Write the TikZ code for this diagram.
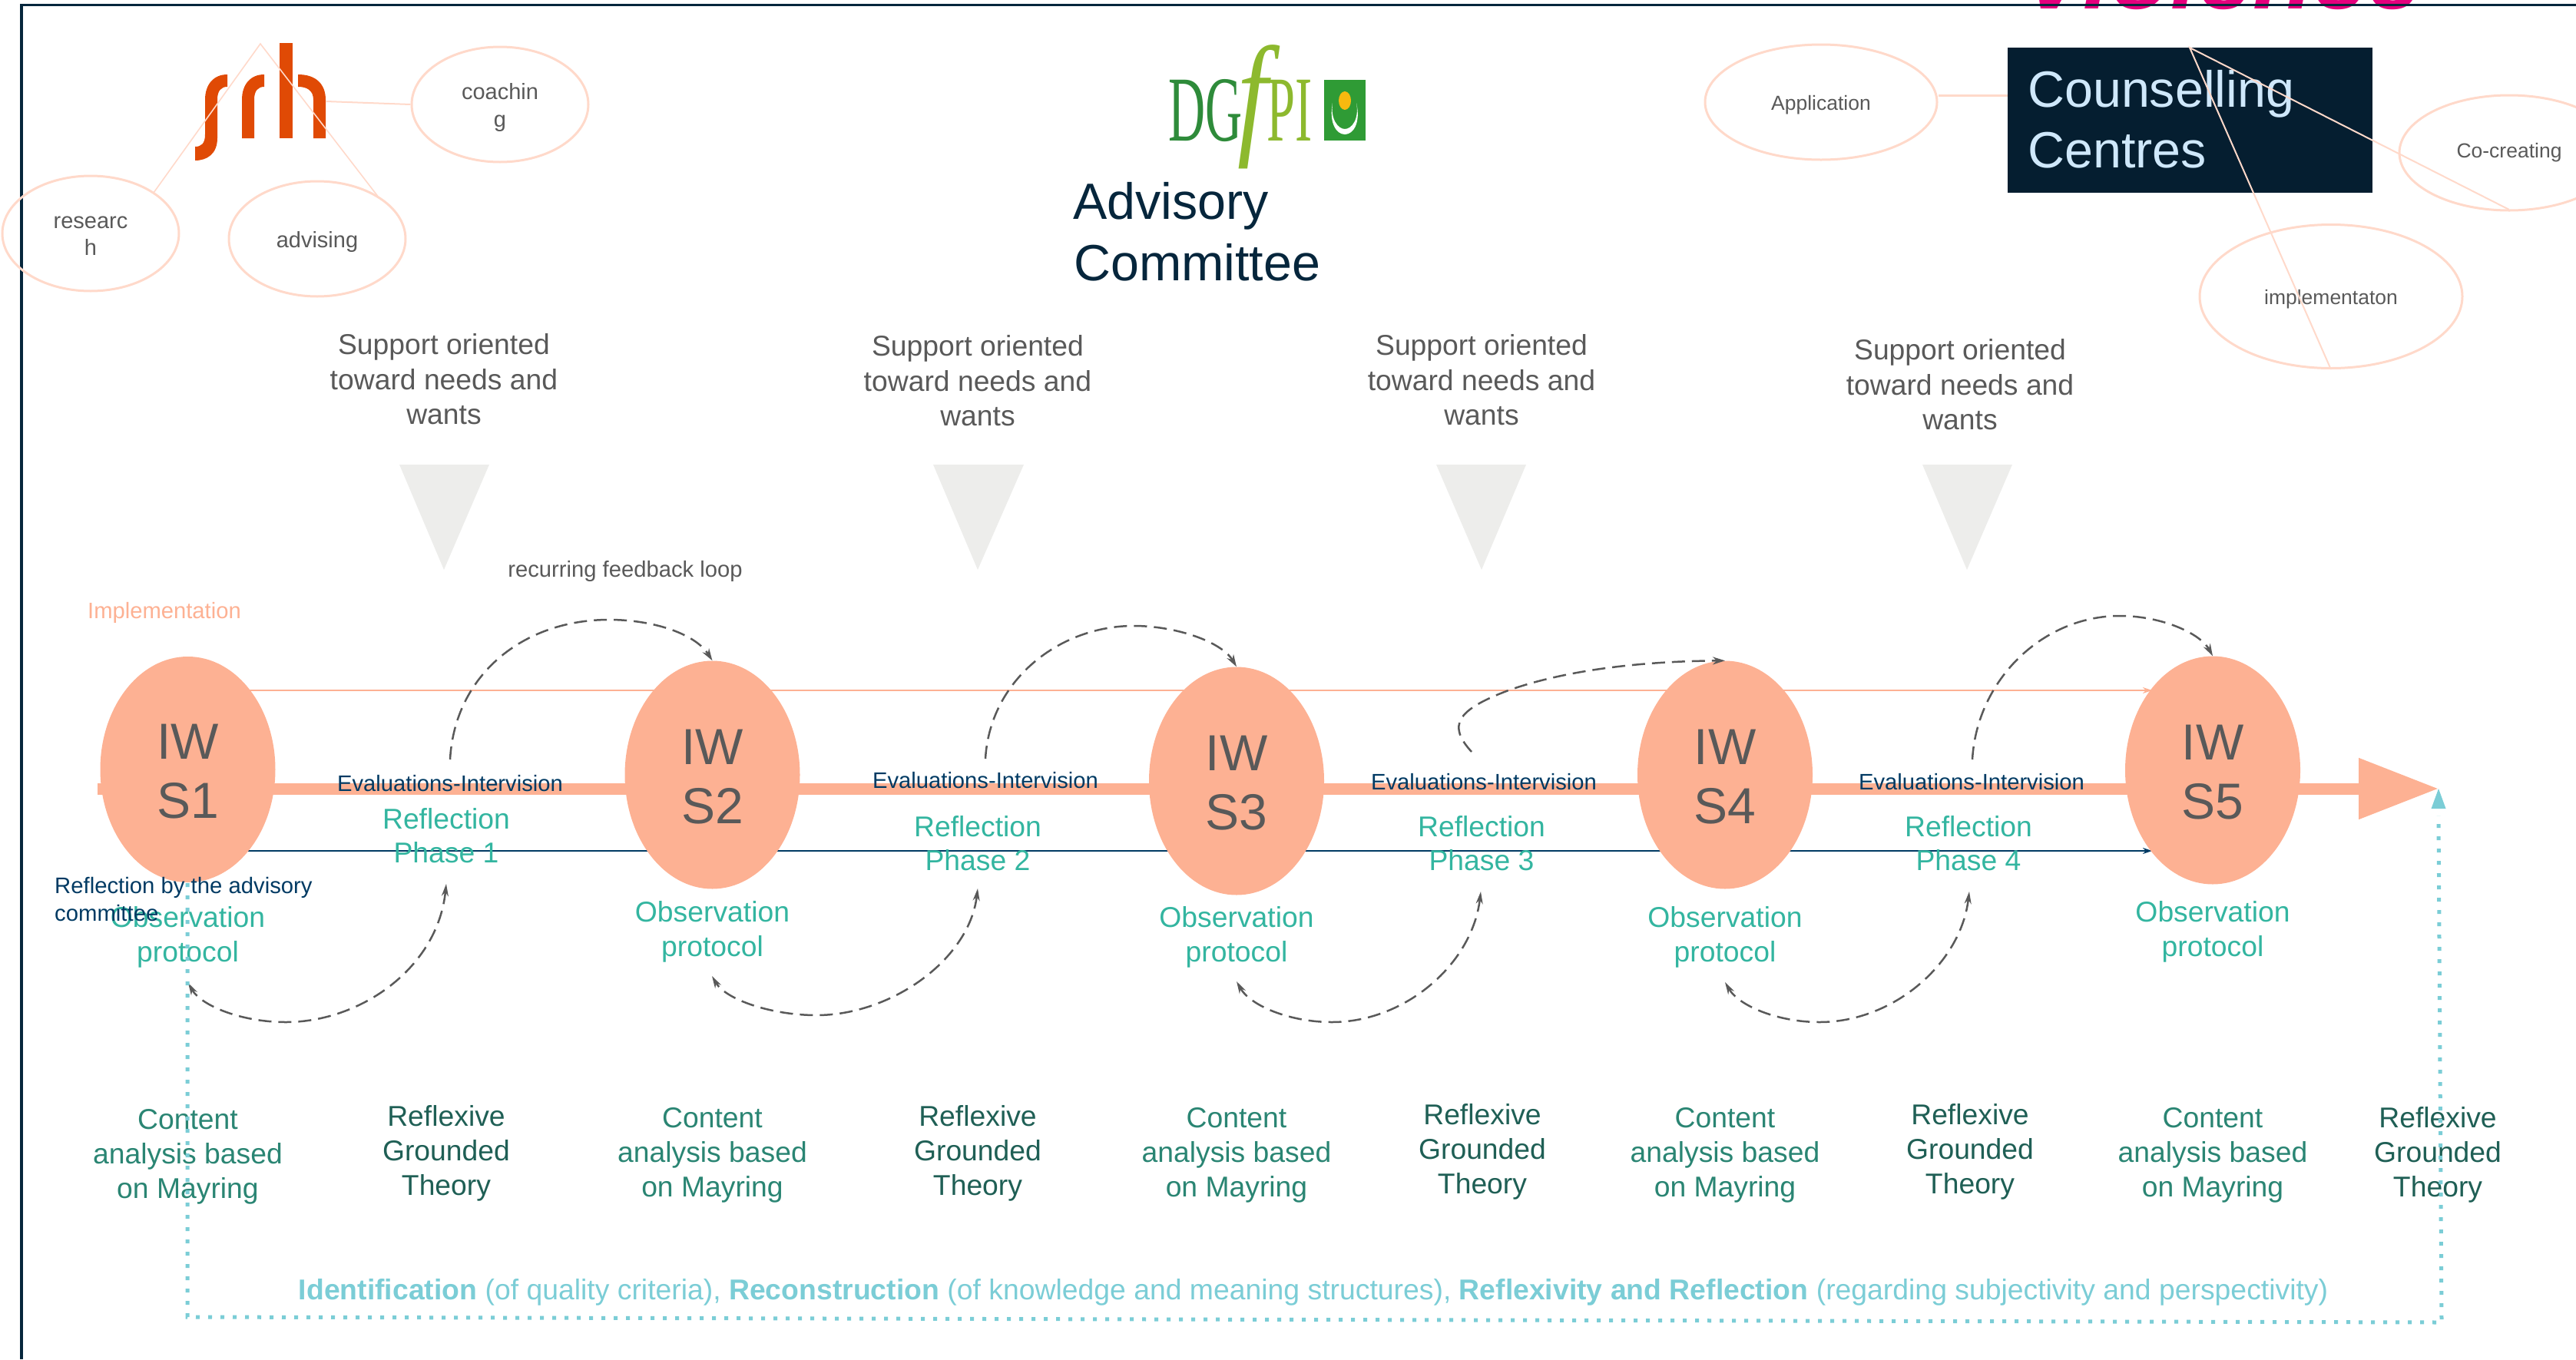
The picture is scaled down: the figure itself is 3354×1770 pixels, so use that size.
\documentclass[tikz,border=0pt]{standalone}
\usepackage{fontspec}
\setmainfont{Liberation Sans}
\newfontfamily\logoserif{Liberation Serif}
\usetikzlibrary{arrows.meta,shapes.geometric}
\pgfdeclarelayer{under}
\pgfsetlayers{under,main}
\definecolor{peach}{HTML}{FDB193}
\definecolor{pale}{HTML}{FFD9CA}
\definecolor{navy}{HTML}{06263C}
\definecolor{deepblue}{HTML}{003A63}
\definecolor{boxdark}{HTML}{051E30}
\definecolor{graytext}{HTML}{595959}
\definecolor{mint}{HTML}{33B5A0}
\definecolor{teal}{HTML}{2A8573}
\definecolor{deepteal}{HTML}{1F5F55}
\definecolor{sky}{HTML}{7BCDD6}
\definecolor{srhorange}{HTML}{E04A05}
\definecolor{dgdark}{HTML}{2E8B3A}
\definecolor{dglight}{HTML}{8DB92E}
\definecolor{dgbox}{HTML}{2F9B35}
\definecolor{dgsun}{HTML}{F7B90F}
\definecolor{pink}{HTML}{E5007D}
\definecolor{boxtext}{HTML}{CFE8FB}
\definecolor{trianglegray}{HTML}{EDEDEB}
\newcommand{\fs}[2]{\fontsize{#1}{#2}\selectfont}
\newcommand{\st}{\strut}
\newcommand{\bt}{\strut\rule{0pt}{.93\baselineskip}}
\newcommand{\iwt}{\rule{0pt}{51pt}}
\tikzset{
  iw/.style={ellipse,fill=peach,text=graytext,minimum width=228pt,minimum height=297pt,inner sep=0pt,align=center,font=\fs{66}{77}},
  support/.style={text=graytext,align=center,inner sep=0pt,font=\fs{37.3}{45.5}},
  evaltext/.style={text=deepblue,align=center,inner sep=0pt,font=\fs{29.2}{35}},
  refl/.style={text=mint,align=center,inner sep=0pt,font=\fs{37.3}{44}},
  obs/.style={text=mint,align=center,inner sep=0pt,font=\fs{37.3}{45}},
  content/.style={text=teal,align=center,inner sep=0pt,font=\fs{37.3}{45}},
  rgt/.style={text=deepteal,align=center,inner sep=0pt,font=\fs{37.3}{45}},
  bubble/.style={ellipse,draw=pale,line width=3pt,inner sep=0pt,align=center,text=graytext,minimum width=230pt,minimum height=150pt},
  paleline/.style={draw=pale,line width=2pt},
  feedback/.style={draw=graytext,line width=2.5pt,dash pattern=on 17pt off 9pt},
  thinarrow/.style={line width=2.5pt,-{Stealth[length=12pt,width=8pt]}},
  dots/.style={draw=sky,line width=5pt,dash pattern=on 5pt off 11pt},
  srhshape/.style={fill=srhorange,draw=none},
  head/.style={text=navy,align=left,inner sep=0pt,font=\fs{66.4}{80}},
  boxlabel/.style={anchor=base west,inner sep=0pt,text=boxtext,font=\fs{66.4}{80}},
  lowtips/.style={{Stealth[length=16pt,width=9pt]}-{Stealth[length=16pt,width=9pt]}},
  hightip/.style={-{Stealth[length=16pt,width=10pt]}},
}
\begin{document}
\begin{tikzpicture}[x=1pt,y=-1pt]
\useasboundingbox (0,0) rectangle (3354,1770);
\clip (0,0) rectangle (3354,1770);
% clipped title at the top edge
\node[anchor=base west,inner sep=0pt,text=pink,font=\fs{128}{130}\bfseries\itshape] (violence) at (2632,11) {Violence};
\draw[navy,line width=3.5pt] (28,1770) coordinate (fb) -- (28,6.5) coordinate (fc) -- (3354,6.5) coordinate (fr);

% srh logo
\path[srhshape] (296,97) -- (296,113) .. controls (288,113) and (283,118) .. (283,130) -- (283,180) .. controls (283,200) and (270,209) .. (254,209) -- (254,191) .. controls (262,191) and (267,187) .. (267,175) -- (267,130) .. controls (267,110) and (278,97) .. (296,97) -- cycle;
\path[srhshape] (344,97) -- (344,113) .. controls (336,113) and (331,118) .. (331,130) -- (331,180) -- (315,180) -- (315,130) .. controls (315,110) and (326,97) .. (344,97) -- cycle;
\path[srhshape] (364,56) rectangle (381,180);
\path[srhshape] (388,97) .. controls (412,97) and (424,110) .. (424,130) -- (424,180) -- (408,180) -- (408,130) .. controls (408,118) and (400,113) .. (388,113) -- cycle;

% DGfPI logo
\node[anchor=base west,inner sep=0pt,text=dgdark,font=\logoserif\fs{121}{121}] (dg) at (1521,183) {\scalebox{0.55}[1]{DG}};
\node[anchor=base west,inner sep=0pt,text=dglight,font=\logoserif\fs{121}{121}] (pi) at (1649,183) {\scalebox{0.55}[1]{PI}};
\node[anchor=base,inner sep=0pt,text=dglight,font=\logoserif\itshape\fs{176}{176}] (eff) at (1631,182) {\scalebox{0.8}[1]{f}};
\path[fill=dgbox] (1724,104) rectangle (1778,183);
\path[fill=white] (1735,134) .. controls (1730,160) and (1740,175) .. (1751,175) .. controls (1762,175) and (1772,160) .. (1766,134) .. controls (1770,155) and (1760,168) .. (1751,168) .. controls (1742,168) and (1732,155) .. (1735,134) -- cycle;
\path[fill=dgsun] (1751,131) ellipse [x radius=8,y radius=12];

% Advisory committee
\node[head,anchor=base west] (adv1) at (1397,285) {Advisory};
\node[head,anchor=base west] (adv2) at (1398,365) {Committee};

% Counselling box
\node[fill=boxdark,minimum width=475pt,minimum height=189pt,inner sep=0pt] (cbox) at (2851.5,156.5) {};
\node[boxlabel] (c1) at (2640,139) {Counselling};
\node[boxlabel] (c2) at (2640,218) {Centres};

% bubbles
\node[bubble,font=\fs{29}{36}] (coach) at (651,136) {\bt coachin\\\st g};
\node[bubble,font=\fs{29}{35}] (research) at (118,304) {\bt researc\\\st h};
\node[bubble,font=\fs{29}{35}] (advising) at (413,311) {\bt advising};
\node[bubble,font=\fs{26.5}{32},minimum width=302pt] (appl) at (2371,133) {\bt Application};
\node[bubble,font=\fs{26.5}{32},minimum width=286pt] (cocr) at (3267,199) {\st Co-creating};
\node[bubble,font=\fs{26.5}{32},minimum width=342pt,minimum height=187pt] (impl) at (3035,386) {\bt implementaton};

\coordinate (apexA) at (339,57);
\coordinate (resEnd) at (200,251);
\coordinate (advEnd) at (493,257);
\coordinate (srhRight) at (424.5,132);
\draw[paleline,line width=1.6pt] (resEnd) -- (apexA) -- (advEnd);
\draw[paleline] (srhRight) -- (coach.west);
\coordinate (appR) at (2524,124);
\coordinate (boxL) at (2614,124);
\draw[paleline,line width=3pt] (appR) -- (boxL);
\coordinate (apexB) at (2851,62);
\coordinate (cocrEnd) at (3267,273);
\coordinate (implEnd) at (3034,479);
\draw[paleline] (cocrEnd) -- (apexB) -- (implEnd);

% support texts and triangles
\foreach \n/\x/\y in {1/578/498,2/1273/500,3/1929/499,4/2552/505}{
  \node[support] (sup\n) at (\x,\y) {\st Support oriented\\\st toward needs and\\\st wants};
}
\foreach \n/\l/\r/\t in {1/520/637/578,2/1215/1333/1273,3/1870/1987/1929,4/2503/2620/2561}{
  \path[fill=trianglegray] (\l,605) coordinate (tl\n) -- (\r,605) coordinate (tr\n) -- (\t,742) coordinate (tt\n) -- cycle;
}
\node[inner sep=0pt,text=graytext,font=\fs{29.2}{35}] (loop) at (814,744) {recurring feedback loop};
\node[inner sep=0pt,text=peach,font=\fs{29.2}{35}] (implab) at (214,798) {Implementation};

% workshops
\node[iw,minimum height=294pt] (S1) at (244.5,1002) {\iwt IW\\S1};
\node[iw] (S2) at (927.5,1009) {\iwt IW\\S2};
\node[iw] (S3) at (1610,1017) {\iwt IW\\S3};
\node[iw] (S4) at (2246,1009) {\iwt IW\\S4};
\node[iw] (S5) at (2881,1003) {\iwt IW\\S5};

% lines behind the workshops
\coordinate (mainStart) at (127,1027);
\coordinate (mainTip) at (3175,1027);
\coordinate (implStart) at (244,899);
\coordinate (implStop) at (2802,899);
\coordinate (reflStart) at (244,1108);
\coordinate (reflStop) at (2802,1108);
\begin{pgfonlayer}{under}
\draw[peach,line width=15pt,-{Triangle[length=104pt,width=76pt]}] (mainStart) -- (mainTip);
\draw[peach,thinarrow] (implStart) -- (implStop);
\draw[deepblue,thinarrow] (reflStart) -- (reflStop);
\end{pgfonlayer}

% labels along the line
\foreach \n/\x/\y in {1/586/1020,2/1283/1016,3/1932/1018,4/2567/1018}{
  \node[evaltext] (ev\n) at (\x,\y) {Evaluations-Intervision};
}
\foreach \n/\x/\y in {1/581/1093,2/1273/1103,3/1929/1103,4/2563/1103}{
  \node[refl] (rf\n) at (\x,\y) {\st Reflection\\\st Phase \n};
}
\foreach \n/\x/\y in {S1/244.5/1221,S2/927.5/1214,S3/1610/1221,S4/2246/1221,S5/2881/1214}{
  \node[obs] (ob\n) at (\x,\y) {\st Observation\\\st protocol};
}
\foreach \n/\x/\y in {S1/244.5/1506,S2/927.5/1504,S3/1610/1504,S4/2246/1504,S5/2881/1504}{
  \node[content] (ca\n) at (\x,\y) {\st Content\\\st analysis based\\\st on Mayring};
}
\foreach \n/\x/\y in {1/581/1502,2/1273/1502,3/1930/1500,4/2565/1500,5/3174/1504}{
  \node[rgt] (gt\n) at (\x,\y) {\st Reflexive\\\st Grounded\\\st Theory};
}
\node[anchor=north west,align=left,inner sep=0pt,text=deepblue,font=\fs{29.3}{36}] (advref) at (71,1142) {Reflection by the advisory\\committee};

% feedback loops above
\coordinate (fa1) at (586,989);
\coordinate (fp1) at (793,807);
\draw[feedback,hightip] (fa1) .. controls (592,880) and (680,807) .. (fp1) .. controls (850,807) and (905,825) .. (S2.north);
\coordinate (fa2) at (1283,988);
\coordinate (fp2) at (1476,815);
\draw[feedback,hightip] (fa2) .. controls (1289,885) and (1380,815) .. (fp2) .. controls (1530,815) and (1590,835) .. (S3.north);
\coordinate (fa3) at (1916,979);
\coordinate (fp3) at (1964,899);
\draw[feedback,hightip] (fa3) .. controls (1885,945) and (1895,925) .. (fp3) .. controls (2040,872) and (2140,861) .. (S4.north);
\coordinate (fa4) at (2568,989);
\coordinate (fp4) at (2760,802);
\draw[feedback,hightip] (fa4) .. controls (2574,885) and (2660,802) .. (fp4) .. controls (2815,802) and (2865,825) .. (S5.north);

% feedback loops below
\coordinate (lo1) at (372,1331);
\coordinate (lt1) at (581,1151);
\coordinate (le1) at (245,1280);
\draw[feedback,lowtips] (lt1) .. controls (570,1260) and (470,1331) .. (lo1) .. controls (315,1331) and (262,1310) .. (le1);
\coordinate (lo2) at (1063,1322);
\coordinate (lt2) at (1273,1157);
\coordinate (le2) at (927,1271);
\draw[feedback,lowtips] (lt2) .. controls (1262,1250) and (1160,1322) .. (lo2) .. controls (1005,1322) and (945,1302) .. (le2);
\coordinate (lo3) at (1734,1331);
\coordinate (lt3) at (1928,1161);
\coordinate (le3) at (1610,1278);
\draw[feedback,lowtips] (lt3) .. controls (1917,1255) and (1830,1331) .. (lo3) .. controls (1680,1331) and (1628,1310) .. (le3);
\coordinate (lo4) at (2369,1331);
\coordinate (lt4) at (2564,1161);
\coordinate (le4) at (2246,1279);
\draw[feedback,lowtips] (lt4) .. controls (2553,1255) and (2465,1331) .. (lo4) .. controls (2315,1331) and (2264,1310) .. (le4);

% dotted return
\coordinate (dotStart) at (244,1150);
\coordinate (dotA) at (244,1715);
\coordinate (dotB) at (3179,1722);
\coordinate (dotC) at (3175,1062);
\draw[dots] (dotStart) -- (dotA) -- (dotB) -- (dotC);
\path[fill=sky] (3175,1027) -- (3184.5,1053) -- (3165.5,1053) -- cycle;
\node[inner sep=0pt,text=sky,font=\fs{37.35}{45}] (bottom) at (1710,1683) {\textbf{Identification} (of quality criteria), \textbf{Reconstruction} (of knowledge and meaning structures), \textbf{Reflexivity and Reflection} (regarding subjectivity and perspectivity)};
\end{tikzpicture}
\end{document}
